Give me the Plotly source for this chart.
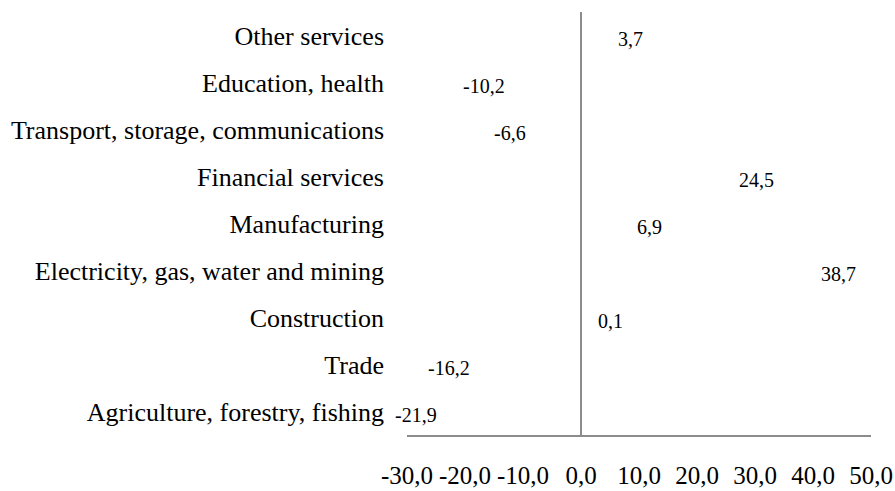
import plotly.graph_objects as go

# Growth by sector, percent (top to bottom as listed)
sectors = [
    "Other services",
    "Education, health",
    "Transport, storage, communications",
    "Financial services",
    "Manufacturing",
    "Electricity, gas, water and mining",
    "Construction",
    "Trade",
    "Agriculture, forestry, fishing",
]
growth = [3.7, -10.2, -6.6, 24.5, 6.9, 38.7, 0.1, -16.2, -21.9]
x_ticks = [-30, -20, -10, 0, 10, 20, 30, 40, 50]


def fmt(v):
    # one decimal, comma separator, plain hyphen for negatives
    return f"{v:.1f}".replace(".", ",")


FONT = "Liberation Serif"
AXIS_GREY = "#8c8c8c"

fig = go.Figure(
    go.Bar(
        x=growth,
        y=sectors,
        orientation="h",
        marker=dict(color="rgba(0,0,0,0)", line=dict(width=0)),
        hoverinfo="x+y",
    )
)

# value labels just past the end of each bar
for s, v in zip(sectors, growth):
    fig.add_annotation(
        x=v,
        y=s,
        text=fmt(v),
        showarrow=False,
        xanchor="left" if v >= 0 else "right",
        xshift=14 if v >= 0 else -15,
        yshift=-3,
        font=dict(family=FONT, size=20, color="#000000"),
    )

fig.update_layout(
    width=895,
    height=491,
    margin=dict(l=407, r=24, t=12, b=56, autoexpand=False),
    paper_bgcolor="white",
    plot_bgcolor="white",
    showlegend=False,
    font=dict(family=FONT, color="#000000"),
    xaxis=dict(
        range=[-30, 50],
        tickvals=x_ticks,
        ticktext=[fmt(t) for t in x_ticks],
        tickangle=0,
        automargin=False,
        showgrid=False,
        showline=True,
        linecolor=AXIS_GREY,
        linewidth=1.5,
        zeroline=True,
        zerolinecolor=AXIS_GREY,
        zerolinewidth=1.5,
        ticks="",
        ticklabelstandoff=17,
        tickfont=dict(family=FONT, size=25, color="#000000"),
        fixedrange=True,
    ),
    yaxis=dict(
        categoryorder="array",
        categoryarray=sectors,
        autorange="reversed",
        automargin=False,
        showgrid=False,
        showline=False,
        zeroline=False,
        ticks="",
        ticklabelstandoff=22,
        tickfont=dict(family=FONT, size=26, color="#000000"),
        fixedrange=True,
    ),
    bargap=0.5,
)

fig.write_html("out.html")
